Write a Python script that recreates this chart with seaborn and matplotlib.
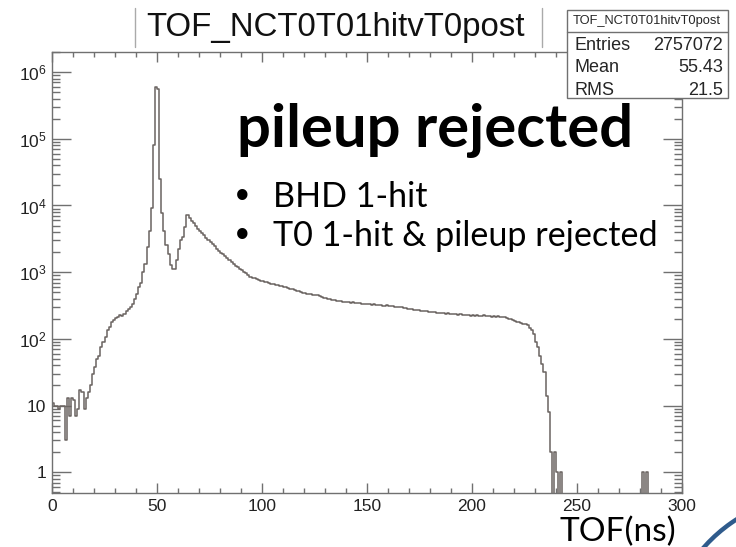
import numpy as np
import pandas as pd
import seaborn as sns
import matplotlib.pyplot as plt
from matplotlib.ticker import FixedLocator, MultipleLocator, NullFormatter
from matplotlib.patches import Rectangle, Arc
from matplotlib.lines import Line2D

# Histogram contents, 1 ns bins from 0 to 300 ns
counts = [
    11, 10, 10, 9, 10, 10, 3, 13, 7, 13,
    12, 7, 9, 17, 16, 9, 13, 16, 20, 30,
    38, 50, 56, 75, 90, 106, 134, 150, 178, 195,
    205, 212, 225, 220, 240, 262, 282, 300, 338, 400,
    470, 600, 700, 1000, 1340, 2400, 4200, 9300, 82000, 600000,
    560000, 25000, 7600, 4200, 2600, 1900, 1300, 1130, 1120, 1500,
    2250, 3000, 3400, 4700, 7100, 6400, 5900, 5400, 4900, 4500,
    4100, 3850, 3600, 3300, 3050, 2850, 2650, 2450, 2200, 2050,
    1950, 1850, 1750, 1620, 1530, 1430, 1330, 1250, 1190, 1130,
    1070, 1010, 960, 900, 860, 830, 805, 790, 760, 745,
    735, 720, 705, 690, 670, 665, 650, 640, 625, 610,
    600, 590, 575, 560, 555, 540, 525, 515, 500, 495,
    490, 478, 470, 468, 458, 452, 450, 438, 425, 415,
    408, 400, 392, 385, 380, 372, 370, 368, 362, 360,
    356, 355, 350, 352, 346, 342, 344, 338, 336, 335,
    332, 330, 325, 328, 320, 318, 322, 315, 312, 318,
    310, 306, 312, 300, 305, 302, 298, 290, 295, 285,
    280, 282, 275, 270, 272, 265, 262, 266, 258, 255,
    252, 250, 254, 246, 244, 248, 242, 240, 243, 238,
    236, 240, 233, 230, 235, 228, 226, 225, 230, 224,
    226, 222, 228, 224, 220, 225, 221, 218, 224, 216,
    220, 214, 218, 215, 210, 212, 205, 200, 196, 190,
    186, 180, 182, 175, 170, 165, 160, 145, 134, 118,
    90, 75, 55, 42, 32, 14, 8, 2, 0, 2,
    1, 0, 1, 0, 0, 0, 0, 0, 0, 0,
    0, 0, 0, 0, 0, 0, 0, 0, 0, 0,
    0, 0, 0, 0, 0, 0, 0, 0, 0, 0,
    0, 0, 0, 0, 0, 0, 0, 0, 0, 0,
    0, 1, 0, 1, 0, 0, 0, 0, 0, 0,
    0, 0, 0, 0, 0, 0, 0, 0, 0, 0,
]
n_bins = 300
tof_range = (0, 300)

x_ticks = [0, 50, 100, 150, 200, 250, 300]
y_ticks = [1, 10, 1e2, 1e3, 1e4, 1e5, 1e6]
y_tick_labels = ['1', '10', r'$\mathregular{10^{2}}$', r'$\mathregular{10^{3}}$',
                 r'$\mathregular{10^{4}}$', r'$\mathregular{10^{5}}$', r'$\mathregular{10^{6}}$']

hist_name = 'TOF_NCT0T01hitvT0post'
stat_names = ['Entries', 'Mean', 'RMS']
stat_values = ['2757072', '55.43', '21.5']

df = pd.DataFrame({'tof': np.arange(n_bins) + 0.5, 'n': counts})

# Style
sns.set_style('ticks')
plt.rcParams['font.family'] = ['Liberation Sans', 'DejaVu Sans']
plt.rcParams['mathtext.fontset'] = 'custom'
plt.rcParams['mathtext.rm'] = 'Liberation Sans'
plt.rcParams['mathtext.it'] = 'Liberation Sans:italic'
plt.rcParams['mathtext.bf'] = 'Liberation Sans:bold'

axis_grey = '#707070'
line_col = '#6a6360'

fig = plt.figure(figsize=(7.36, 5.47), dpi=100)
ax = fig.add_axes([0.0707, 0.0982, 0.8560, 0.8067])

sns.histplot(data=df, x='tof', weights='n', bins=n_bins, binrange=tof_range, element='step',
             fill=False, color=line_col, linewidth=1.1, ax=ax)
ax.set_yscale('log')
ax.set_xlim(tof_range)
ax.set_ylim(0.484, 2.0e6)
ax.set_xlabel('')
ax.set_ylabel('')

# ROOT-like axes: ticks on every side, pointing in
ax.xaxis.set_major_locator(FixedLocator(x_ticks))
ax.xaxis.set_minor_locator(MultipleLocator(10))
ax.yaxis.set_major_locator(FixedLocator(y_ticks))
ax.yaxis.set_minor_locator(FixedLocator([k * 10.0 ** d for d in range(-1, 7) for k in range(2, 10)]))
ax.yaxis.set_minor_formatter(NullFormatter())
ax.set_yticklabels(y_tick_labels)
ax.tick_params(which='both', direction='in', top=True, right=True,
               color=axis_grey, width=1, labelsize=12.5, labelcolor='#222222')
ax.tick_params(axis='x', which='major', length=7.5, pad=4)
ax.tick_params(axis='x', which='minor', length=3.8)
ax.tick_params(axis='y', which='major', length=13.5, pad=4)
ax.tick_params(axis='y', which='minor', length=6)
for s in ax.spines.values():
    s.set_color(axis_grey)
    s.set_linewidth(1)

# histogram title with its box edges
fig.text(0.4565, 1 - 36 / 547, hist_name, fontsize=23.8, ha='center', va='baseline', color='#111111')
for xp in [135, 542]:
    fig.add_artist(Line2D([xp / 736, xp / 736], [1 - 8 / 547, 1 - 47 / 547],
                          color='#aaaaaa', lw=1, transform=fig.transFigure))

# stats box
fig.add_artist(Rectangle((567 / 736, 1 - 98 / 547), 161 / 736, 88 / 547,
                         transform=fig.transFigure, facecolor='white',
                         edgecolor=axis_grey, lw=1, zorder=5))
fig.add_artist(Line2D([567 / 736, 728 / 736], [1 - 32 / 547, 1 - 32 / 547],
                      color=axis_grey, lw=1, transform=fig.transFigure, zorder=6))
fig.text(647 / 736, 1 - 21 / 547, hist_name, fontsize=9.3, ha='center', va='center', zorder=7)
for i, (nm, val) in enumerate(zip(stat_names, stat_values)):
    yb = 1 - (50 + i * 22.5) / 547
    fig.text(575 / 736, yb, nm, fontsize=13, ha='left', va='baseline', zorder=7)
    fig.text(723 / 736, yb, val, fontsize=13, ha='right', va='baseline', zorder=7)

# slide annotations
fig.text(237 / 736, 1 - 147 / 547, 'pileup rejected', family='Lato', fontweight='bold',
         fontsize=43, ha='left', va='baseline', color='black')
bullets = ['BHD 1-hit', 'T0 1-hit & pileup rejected']
for i, b in enumerate(bullets):
    yb = 1 - (207 + i * 39) / 547
    fig.text(242 / 736, yb, '\u2022', family='Liberation Sans', fontsize=26, fontweight='bold',
             ha='center', va='baseline', color='black')
    fig.text(273 / 736, yb, b, family='Lato', fontsize=24.6, ha='left', va='baseline', color='black')
fig.text(676 / 736, 1 - 541 / 547, 'TOF(ns)', family='Lato', fontsize=24, ha='right', va='baseline',
         color='black')

# corner decoration of the slide
fig.add_artist(Arc((8.2, -1.03), 3.1, 3.1, theta1=100, theta2=150, color='#2f5b8c', lw=3.2,
                   transform=fig.dpi_scale_trans))

fig.savefig('out.png', dpi=100)
